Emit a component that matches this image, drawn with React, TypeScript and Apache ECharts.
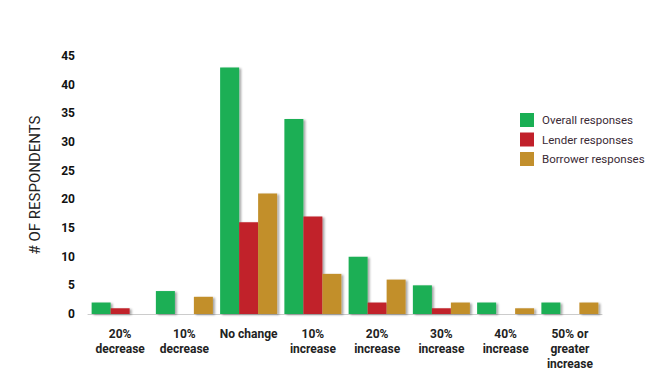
import React, { useEffect, useRef } from "react";
import * as echarts from "echarts";

const categories = [
  "20%\ndecrease",
  "10%\ndecrease",
  "No change",
  "10%\nincrease",
  "20%\nincrease",
  "30%\nincrease",
  "40%\nincrease",
  "50% or\ngreater\nincrease",
];
const overall = [2, 4, 43, 34, 10, 5, 2, 2];
const lender = [1, 0, 16, 17, 2, 1, 0, 0];
const borrower = [0, 3, 21, 7, 6, 2, 1, 2];
const seriesNames = ["Overall responses", "Lender responses", "Borrower responses"];
const colors = ["#1aaf54", "#c1202a", "#c28f2c"];

export default function App() {
  const ref = useRef<HTMLDivElement>(null);
  useEffect(() => {
    if (!ref.current) return;
    const chart = echarts.init(ref.current, undefined, { renderer: "svg" });
    const data = [overall, lender, borrower];
    chart.setOption({
      animation: false,
      grid: { left: 88, right: 48, top: 56, bottom: 57, containLabel: false },
      legend: {
        orient: "vertical",
        left: 515,
        top: 108,
        itemWidth: 14,
        itemHeight: 14,
        itemGap: 5.5,
        icon: "rect",
        textStyle: { fontFamily: "Roboto", fontSize: 11.5, color: "#3a2a35", padding: [0, 0, 0, 3] },
        data: seriesNames,
      },
      xAxis: {
        type: "category",
        data: categories,
        axisLine: { show: true, lineStyle: { color: "#cccccc", width: 1 } },
        axisTick: { show: false },
        axisLabel: {
          interval: 0,
          margin: 12,
          fontFamily: "Roboto",
          fontWeight: "bold",
          fontSize: 12,
          lineHeight: 15,
          color: "#222222",
        },
      },
      yAxis: {
        type: "value",
        min: 0,
        max: 45,
        interval: 5,
        name: "# OF RESPONDENTS",
        nameLocation: "middle",
        nameGap: 46,
        nameRotate: 90,
        nameTextStyle: { fontFamily: "Roboto", fontSize: 15, color: "#222222" },
        axisLine: { show: false },
        axisTick: { show: false },
        splitLine: { show: false },
        axisLabel: {
          margin: 13,
          fontFamily: "Roboto",
          fontWeight: "bold",
          fontSize: 12,
          color: "#111111",
        },
      },
      series: seriesNames.map((name, i) => ({
        name,
        type: "bar",
        data: data[i],
        barWidth: 19,
        barGap: "0%",
        itemStyle: {
          color: colors[i],
          shadowColor: "rgba(0,0,0,0.35)",
          shadowBlur: 2,
          shadowOffsetX: 2,
          shadowOffsetY: 1,
        },
      })),
    });
    return () => chart.dispose();
  }, []);
  return <div ref={ref} style={{ width: 650, height: 371, position: "absolute", left: 0, top: 0 }} />;
}
